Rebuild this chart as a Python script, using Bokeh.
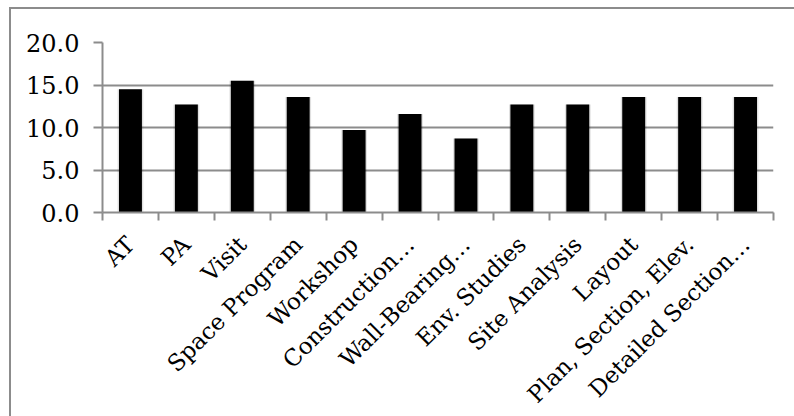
from bokeh.plotting import figure
from bokeh.models import Range1d, FixedTicker, NumeralTickFormatter, ColumnDataSource
from bokeh.embed import file_html
from bokeh.resources import INLINE
import math

# Share of responses per course activity
categories = [
    "AT", "PA", "Visit", "Space Program", "Workshop", "Construction\u2026",
    "Wall-Bearing\u2026", "Env. Studies", "Site Analysis", "Layout",
    "Plan, Section, Elev.", "Detailed Section\u2026",
]
values = [14.5, 12.7, 15.5, 13.6, 9.7, 11.6, 8.7, 12.7, 12.7, 13.6, 13.6, 13.6]
y_ticks = [0, 5, 10, 15, 20]

FONT = "DejaVu Serif"
GRAY = "#8c8c8c"

centers = [i + 0.5 for i in range(len(categories))]
bounds = list(range(len(categories) + 1))
src = ColumnDataSource(dict(x=centers, top=values))

p = figure(
    frame_width=671, frame_height=170,
    x_range=Range1d(0, len(categories)), y_range=Range1d(0, 20),
    output_backend="svg", toolbar_location=None,
    min_border_left=91, min_border_top=33, min_border_right=21, min_border_bottom=240,
)
p.margin = (7, 0, 0, 9)
p.styles = {"border-left": f"2px solid {GRAY}", "border-top": f"2px solid {GRAY}"}
p.outline_line_color = None
p.background_fill_color = "white"
p.border_fill_color = "white"

# soft shadow behind each bar
p.vbar(x="x", top="top", width=0.46, source=src, fill_color="#000000",
       fill_alpha=0.12, line_color=None)
p.vbar(x="x", top="top", width=0.41, source=src, fill_color="black", line_color=None)

xa = p.xaxis[0]
xa.ticker = FixedTicker(ticks=centers, minor_ticks=bounds)
xa.major_label_overrides = {c: name for c, name in zip(centers, categories)}
xa.major_tick_line_color = None
xa.minor_tick_line_color = GRAY
xa.minor_tick_line_width = 2
xa.minor_tick_in = 0
xa.minor_tick_out = 8
xa.axis_line_color = GRAY
xa.axis_line_width = 2
xa.major_label_orientation = math.pi / 4
xa.major_label_text_font = FONT
xa.major_label_text_font_size = "23px"
xa.major_label_text_color = "black"
xa.major_label_standoff = 20

ya = p.yaxis[0]
ya.ticker = FixedTicker(ticks=y_ticks)
ya.formatter = NumeralTickFormatter(format="0.0")
ya.axis_line_color = GRAY
ya.axis_line_width = 2
ya.major_tick_line_color = GRAY
ya.major_tick_line_width = 2
ya.major_tick_in = 0
ya.major_tick_out = 9
ya.minor_tick_line_color = None
ya.major_label_text_font = FONT
ya.major_label_text_font_size = "24px"
ya.major_label_text_color = "black"
ya.major_label_standoff = 14

p.xgrid.grid_line_color = None
p.ygrid.grid_line_color = GRAY
p.ygrid.grid_line_width = 2

open("out.html", "w").write(file_html(p, INLINE))
